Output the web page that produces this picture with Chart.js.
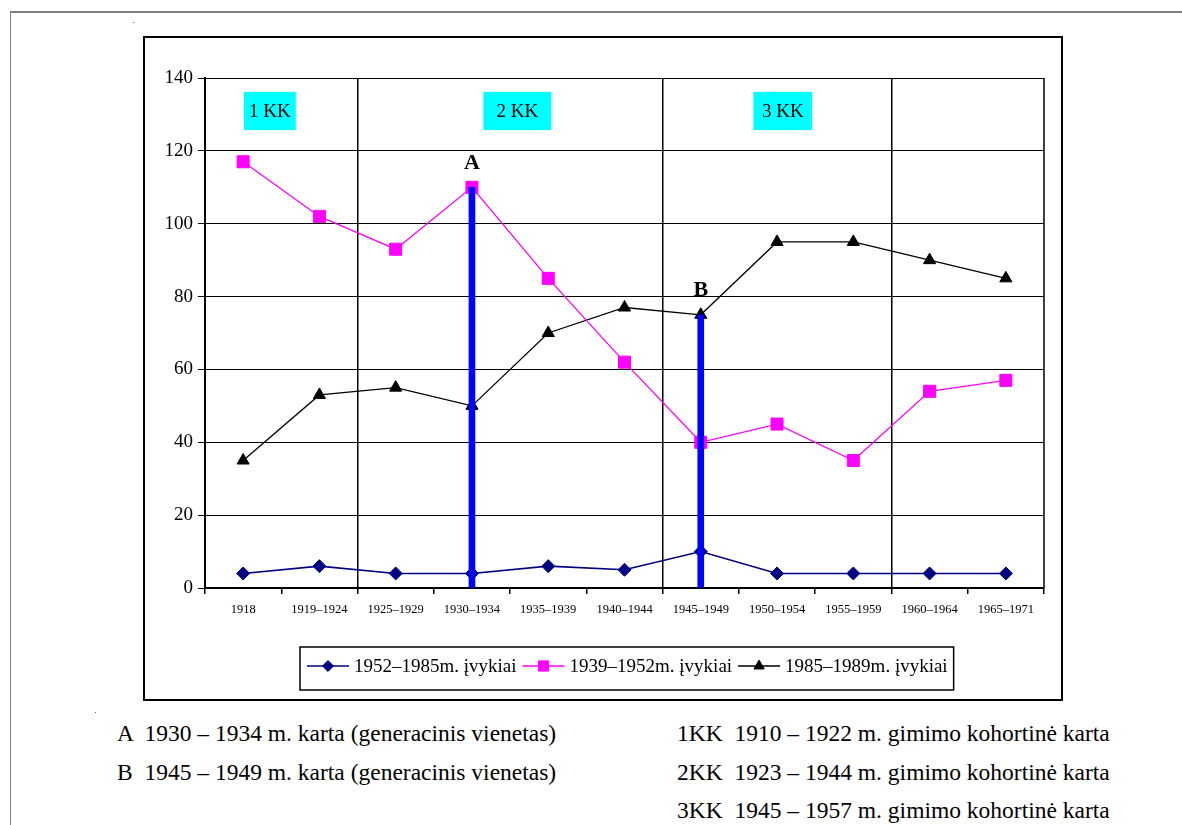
<!DOCTYPE html>
<html>
<head>
<meta charset="utf-8">
<script src="https://cdn.jsdelivr.net/npm/chart.js@4.4.1/dist/chart.umd.min.js"></script>
<style>
  body { margin: 0; background: #fff; width: 1182px; height: 825px; overflow: hidden; position: relative;
         font-family: "Liberation Serif", "Times New Roman", serif; }
  #page { position: absolute; left: 10px; top: 11px; width: 1300px; height: 900px;
          border-left: 1px solid #808080; border-top: 2px solid #808080; }
  #wrap { position: absolute; left: 143px; top: 36px; width: 920px; height: 665px; }
  .note { position: absolute; font-size: 23.5px; line-height: 28px; white-space: pre; color: #000; }
  .dot { position: absolute; width: 1px; height: 1px; background: #666; }
</style>
</head>
<body>
<div id="page"></div>
<div class="dot" style="left:133px;top:22px"></div>
<div class="dot" style="left:95px;top:712px"></div>
<div id="wrap"><canvas id="myChart" width="920" height="665"></canvas></div>
<div id="notes"></div>
<script>
// kategorijos (x asis)
const etiquetas = ["1918", "1919–1924", "1925–1929", "1930–1934", "1935–1939", "1940–1944",
                   "1945–1949", "1950–1954", "1955–1959", "1960–1964", "1965–1971"];

// serijos
const serija1952 = [4, 6, 4, 4, 6, 5, 10, 4, 4, 4, 4];
const serija1939 = [117, 102, 93, 110, 85, 62, 40, 45, 35, 54, 57];
const serija1985 = [35, 53, 55, 50, 70, 77, 75, 95, 95, 90, 85];
const pavadinimai = ["1952–1985m. įvykiai", "1939–1952m. įvykiai", "1985–1989m. įvykiai"];

// generaciniai vienetai A ir B (melyni stulpeliai)
const vienetai = [null, null, null, 110, null, null, 75, null, null, null, null];
const vienetuRaides = [{ idx: 3, txt: "A" }, { idx: 6, txt: "B" }];

// kohortiniu kartu deziutes: pradzia, pabaiga (kategoriju vienetais), tekstas
const kartos = [
  { from: 0.01, to: 0.69, txt: "1 KK" },
  { from: 3.15, to: 4.04, txt: "2 KK" },
  { from: 6.69, to: 7.46, txt: "3 KK" }
];
const skirtukai = [2, 6, 9]; // vertikalios linijos tarp kartu

const yTicks = [0, 20, 40, 60, 80, 100, 120, 140];

const pastabos = [
  { x: 117, y: 719, t: "A  1930 – 1934 m. karta (generacinis vienetas)" },
  { x: 117, y: 758, t: "B  1945 – 1949 m. karta (generacinis vienetas)" },
  { x: 677, y: 719, t: "1KK  1910 – 1922 m. gimimo kohortinė karta" },
  { x: 677, y: 758, t: "2KK  1923 – 1944 m. gimimo kohortinė karta" },
  { x: 677, y: 796, t: "3KK  1945 – 1957 m. gimimo kohortinė karta" }
];

const notes = document.getElementById("notes");
pastabos.forEach(p => {
  const d = document.createElement("div");
  d.className = "note";
  d.style.left = p.x + "px";
  d.style.top = p.y + "px";
  d.textContent = p.t;
  notes.appendChild(d);
});

const FONT = '"Liberation Serif", "Times New Roman", serif';

const linijos = [
  { label: pavadinimai[0], data: serija1952, color: "#000080", style: "rectRot", radius: 6.5, width: 1.6 },
  { label: pavadinimai[1], data: serija1939, color: "#FF00FF", style: "rect", radius: 8.5, width: 1.3 },
  { label: pavadinimai[2], data: serija1985, color: "#000000", style: "triangle", radius: 7, width: 1.3 }
];

const piesinys = {
  id: "piesinys",
  beforeDraw(chart) {
    const c = chart.ctx;
    c.save();
    c.strokeStyle = "#000";
    c.lineWidth = 2;
    c.strokeRect(1, 1, chart.width - 2, chart.height - 2);
    c.restore();
  },
  beforeDatasetsDraw(chart) {
    const c = chart.ctx, x = chart.scales.x, y = chart.scales.y, a = chart.chartArea;
    c.save();
    // desinysis remelis
    c.strokeStyle = "#000";
    c.lineWidth = 1.5;
    c.beginPath();
    c.moveTo(a.right, a.top);
    c.lineTo(a.right, a.bottom);
    c.stroke();
    // kartu deziutes
    kartos.forEach(k => {
      const x1 = x.getPixelForValue(k.from), x2 = x.getPixelForValue(k.to);
      const y1 = y.getPixelForValue(136.2), y2 = y.getPixelForValue(125.7);
      c.fillStyle = "#00FFFF";
      c.fillRect(x1, y1, x2 - x1, y2 - y1);
      c.fillStyle = "#000";
      c.font = "19px " + FONT;
      c.textAlign = "center";
      c.textBaseline = "middle";
      c.fillText(k.txt, (x1 + x2) / 2, (y1 + y2) / 2 + 1);
    });
    c.restore();
  },
  afterDraw(chart) {
    const c = chart.ctx, x = chart.scales.x, y = chart.scales.y;
    c.save();
    // raides A, B
    c.font = "bold 22px " + FONT;
    c.fillStyle = "#000";
    c.textAlign = "center";
    c.textBaseline = "middle";
    vienetuRaides.forEach(r => {
      c.fillText(r.txt, x.getPixelForValue(r.idx), y.getPixelForValue(vienetai[r.idx]) - 24);
    });
    // legenda
    c.font = "19px " + FONT;
    c.textAlign = "left";
    let px = 164;
    const cy = 630;
    linijos.forEach(l => {
      c.strokeStyle = l.color;
      c.fillStyle = l.color;
      c.lineWidth = l.width;
      c.beginPath();
      c.moveTo(px, cy);
      c.lineTo(px + 42, cy);
      c.stroke();
      c.lineWidth = 1;
      Chart.helpers.drawPoint(c, { pointStyle: l.style, radius: l.radius * 0.85, borderWidth: 1, rotation: 0 }, px + 21, cy);
      c.fillStyle = "#000";
      c.fillText(l.label, px + 47, cy + 1);
      px += 47 + c.measureText(l.label).width + 6;
    });
    c.strokeStyle = "#000";
    c.lineWidth = 1.5;
    c.strokeRect(157, 611, px - 157, 43);
    c.restore();
  }
};

const ctx = document.getElementById("myChart");
new Chart(ctx, {
  type: "line",
  data: {
    labels: etiquetas,
    datasets: [
      {
        type: "bar",
        label: "vienetai",
        data: vienetai,
        backgroundColor: "#0000FF",
        borderWidth: 0,
        barThickness: 6,
        order: 0
      },
      ...linijos.map((l, i) => ({
        label: l.label,
        data: l.data,
        borderColor: l.color,
        backgroundColor: l.color,
        borderWidth: l.width,
        pointStyle: l.style,
        pointRadius: l.radius,
        pointBorderWidth: 1,
        pointBackgroundColor: l.color,
        pointBorderColor: l.color,
        tension: 0,
        order: i + 1
      }))
    ]
  },
  options: {
    responsive: false,
    animation: false,
    events: [],
    layout: { padding: { left: 0, right: 19, top: 42, bottom: 0 } },
    plugins: { legend: { display: false }, tooltip: { enabled: false } },
    scales: {
      x: {
        offset: true,
        grid: {
          offset: true,
          color: c => skirtukai.includes(c.index) ? "#000" : "rgba(0,0,0,0)",
          lineWidth: 1.5,
          tickColor: "#000",
          tickLength: 6
        },
        border: { color: "#000", width: 2 },
        ticks: { font: { family: FONT, size: 12.5 }, color: "#000", padding: 8, maxRotation: 0, autoSkip: false },
        afterFit: s => { s.height = 113; }
      },
      y: {
        min: 0,
        max: 140,
        afterBuildTicks: s => { s.ticks = yTicks.map(v => ({ value: v })); },
        grid: { color: "#000", lineWidth: 1, tickColor: "#000", tickLength: 7 },
        border: { color: "#000", width: 2 },
        ticks: { font: { family: FONT, size: 19 }, color: "#000", padding: 5 },
        afterFit: s => { s.width = 62; }
      }
    }
  },
  plugins: [piesinys]
});
</script>
</body>
</html>
